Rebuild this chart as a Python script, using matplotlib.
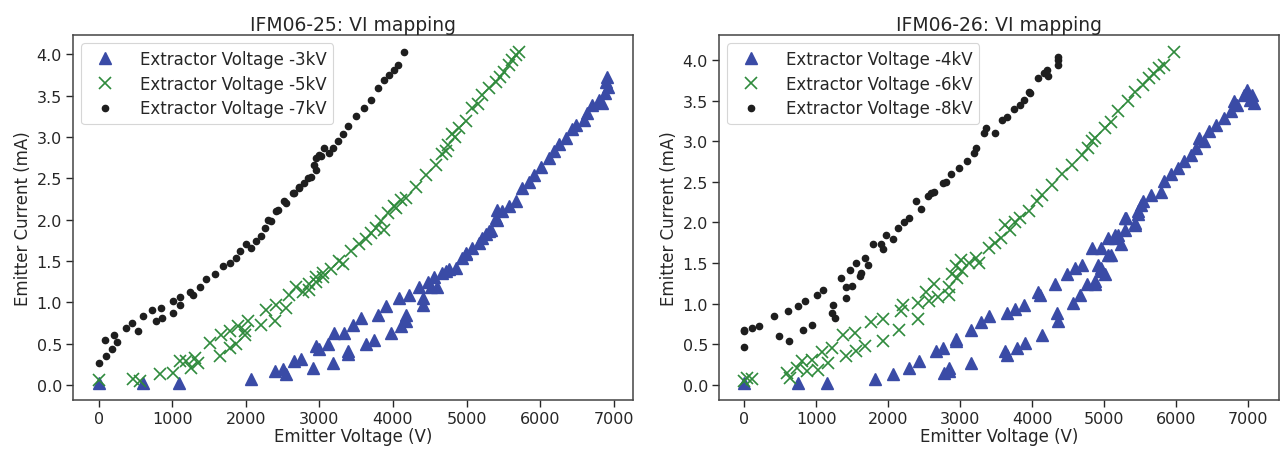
import matplotlib
matplotlib.use("Agg")
import matplotlib.pyplot as plt

# IFM06-25 (left panel)
x25_3kv = [0, 605, 1089, 2075, 2391, 2504, 2549, 2662, 2753, 2910, 2956, 3001, 3114, 3181, 3204, 3340,
           3385, 3385, 3453, 3566, 3634, 3747, 3792, 3905, 3973, 4086, 4108, 4176, 4176, 4222, 4357, 4402,
           4402, 4470, 4515, 4560, 4605, 4673, 4719, 4763, 4854, 4944, 4990, 4990, 5080, 5170, 5215, 5261,
           5306, 5329, 5396, 5419, 5419, 5487, 5577, 5668, 5758, 5848, 5916, 6007, 6119, 6187, 6255, 6346,
           6435, 6481, 6594, 6639, 6707, 6797, 6843, 6888, 6900, 6910, 6920]
y25_3kv = [0.02, 0.03, 0.03, 0.07, 0.17, 0.19, 0.13, 0.29, 0.31, 0.21, 0.47, 0.43, 0.49, 0.27, 0.63, 0.63,
           0.41, 0.37, 0.73, 0.81, 0.49, 0.55, 0.85, 0.95, 0.63, 1.05, 0.71, 0.85, 0.77, 1.09, 1.18, 0.97,
           1.05, 1.24, 1.18, 1.30, 1.18, 1.36, 1.38, 1.40, 1.42, 1.54, 1.58, 1.60, 1.66, 1.72, 1.78, 1.82,
           1.86, 1.88, 2.02, 2.00, 2.12, 2.10, 2.16, 2.22, 2.38, 2.46, 2.54, 2.64, 2.74, 2.83, 2.91, 2.99,
           3.09, 3.15, 3.21, 3.29, 3.39, 3.45, 3.41, 3.53, 3.67, 3.73, 3.60]

x25_5kv = [0, 470, 560, 831, 1012, 1102, 1193, 1261, 1306, 1351, 1509, 1645, 1668, 1780, 1780, 1871,
           1893, 1985, 1985, 2030, 2210, 2278, 2391, 2414, 2549, 2594, 2685, 2775, 2865, 2865, 2956, 2956,
           3046, 3046, 3159, 3272, 3317, 3431, 3543, 3634, 3702, 3770, 3837, 3882, 3927, 4018, 4041, 4108,
           4176, 4312, 4447, 4583, 4673, 4719, 4750, 4808, 4850, 4899, 4990, 5080, 5150, 5215, 5306, 5396,
           5450, 5509, 5577, 5620, 5668, 5713]
y25_5kv = [0.06, 0.07, 0.05, 0.13, 0.15, 0.29, 0.29, 0.21, 0.33, 0.27, 0.51, 0.35, 0.61, 0.45, 0.65, 0.49,
           0.71, 0.65, 0.60, 0.77, 0.73, 0.91, 0.77, 0.97, 0.93, 1.09, 1.18, 1.13, 1.22, 1.15, 1.30, 1.24,
           1.36, 1.30, 1.40, 1.50, 1.46, 1.62, 1.70, 1.76, 1.84, 1.90, 1.98, 1.88, 2.08, 2.16, 2.14, 2.24,
           2.26, 2.40, 2.54, 2.66, 2.79, 2.83, 2.90, 3.03, 3.00, 3.11, 3.19, 3.35, 3.40, 3.51, 3.59, 3.67,
           3.72, 3.79, 3.87, 3.93, 3.99, 4.03]

x25_7kv = [0, 90, 99, 176, 207, 254, 370, 460, 537, 605, 732, 786, 845, 866, 1012, 1012, 1102, 1102,
           1238, 1283, 1373, 1464, 1577, 1690, 1780, 1871, 1916, 2007, 2075, 2142, 2210, 2255, 2300, 2346,
           2414, 2435, 2526, 2549, 2639, 2662, 2730, 2730, 2797, 2842, 2888, 2933, 2956, 2955, 3001, 3024,
           3068, 3136, 3181, 3249, 3317, 3385, 3498, 3611, 3702, 3791, 3882, 3950, 4018, 4062, 4153]
y25_7kv = [0.27, 0.55, 0.35, 0.43, 0.61, 0.52, 0.69, 0.75, 0.65, 0.83, 0.91, 0.77, 0.93, 0.81, 0.87, 1.01,
           0.97, 1.07, 1.13, 1.09, 1.18, 1.28, 1.34, 1.44, 1.48, 1.54, 1.62, 1.70, 1.66, 1.74, 1.80, 1.90,
           2.00, 1.98, 2.10, 2.12, 2.22, 2.20, 2.32, 2.32, 2.38, 2.40, 2.44, 2.50, 2.52, 2.66, 2.60, 2.74,
           2.78, 2.77, 2.87, 2.81, 2.87, 2.95, 3.03, 3.13, 3.25, 3.35, 3.45, 3.59, 3.69, 3.75, 3.81, 3.87,
           4.03]

# IFM06-26 (right panel)
x26_4kv = [0, 751, 1142, 1810, 2063, 2293, 2431, 2662, 2754, 2777, 2846, 2846, 2938, 2938, 3145, 3145,
           3283, 3398, 3628, 3650, 3650, 3767, 3790, 3881, 3904, 4088, 4112, 4135, 4319, 4342, 4365, 4480,
           4573, 4595, 4664, 4687, 4757, 4826, 4871, 4872, 4918, 4964, 4964, 4964, 5010, 5055, 5055, 5102,
           5148, 5148, 5194, 5240, 5286, 5286, 5309, 5424, 5424, 5470, 5470, 5516, 5539, 5654, 5792, 5838,
           5931, 6022, 6115, 6207, 6276, 6322, 6391, 6460, 6552, 6667, 6760, 6805, 6851, 6943, 6989, 7035,
           7058, 7080]
y26_4kv = [0.02, 0.02, 0.02, 0.07, 0.13, 0.21, 0.29, 0.42, 0.46, 0.15, 0.21, 0.17, 0.56, 0.54, 0.27, 0.68,
           0.77, 0.85, 0.42, 0.37, 0.89, 0.93, 0.46, 0.99, 0.52, 1.15, 1.11, 0.62, 1.24, 0.89, 0.79, 1.36,
           1.01, 1.44, 1.11, 1.48, 1.24, 1.69, 1.28, 1.24, 1.48, 1.40, 1.44, 1.69, 1.36, 1.81, 1.60, 1.60,
           1.85, 1.81, 1.85, 1.73, 1.91, 2.06, 2.06, 1.99, 1.97, 2.10, 2.14, 2.22, 2.26, 2.34, 2.38, 2.51,
           2.59, 2.67, 2.75, 2.83, 2.92, 3.04, 3.00, 3.12, 3.20, 3.28, 3.37, 3.49, 3.45, 3.57, 3.63, 3.51,
           3.57, 3.47]

x26_6kv = [0, 30, 106, 590, 635, 728, 797, 866, 935, 1027, 1073, 1165, 1211, 1373, 1418, 1533, 1556,
           1671, 1763, 1925, 1925, 2155, 2178, 2201, 2408, 2408, 2523, 2569, 2639, 2685, 2846, 2845, 2892,
           2938, 2961, 3007, 3030, 3122, 3214, 3260, 3398, 3490, 3560, 3628, 3698, 3767, 3836, 3950, 4066,
           4135, 4273, 4411, 4550, 4688, 4779, 4826, 4871, 5010, 5102, 5193, 5331, 5424, 5539, 5631, 5700,
           5769, 5838, 5976]
y26_6kv = [0.05, 0.08, 0.07, 0.15, 0.08, 0.21, 0.29, 0.17, 0.31, 0.19, 0.40, 0.27, 0.46, 0.62, 0.36, 0.64,
           0.42, 0.48, 0.77, 0.81, 0.54, 0.68, 0.91, 0.99, 0.81, 1.01, 1.15, 1.03, 1.24, 1.08, 1.11, 1.20,
           1.36, 1.46, 1.32, 1.54, 1.40, 1.50, 1.56, 1.50, 1.69, 1.75, 1.81, 1.97, 1.91, 2.01, 2.06, 2.14,
           2.26, 2.34, 2.46, 2.59, 2.71, 2.83, 2.92, 3.00, 3.04, 3.16, 3.24, 3.37, 3.49, 3.61, 3.69, 3.78,
           3.82, 3.90, 3.94, 4.10]

x26_8kv = [0, 0, 0, 106, 199, 406, 475, 599, 621, 751, 820, 842, 945, 1004, 1096, 1211, 1234, 1257,
           1349, 1418, 1418, 1464, 1500, 1556, 1602, 1625, 1671, 1717, 1787, 1902, 1925, 1971, 2063, 2133,
           2224, 2293, 2385, 2454, 2547, 2593, 2639, 2754, 2800, 2869, 2983, 3099, 3191, 3214, 3329, 3352,
           3490, 3583, 3652, 3743, 3836, 3881, 3950, 3973, 4088, 4158, 4204, 4227, 4365, 4365, 4365]
y26_8kv = [0.47, 0.66, 0.68, 0.70, 0.72, 0.85, 0.60, 0.91, 0.54, 0.97, 0.68, 1.03, 0.74, 1.11, 1.17, 0.89,
           0.99, 0.83, 1.32, 1.20, 1.07, 1.42, 1.22, 1.50, 1.34, 1.38, 1.56, 1.48, 1.73, 1.73, 1.67, 1.85,
           1.79, 1.93, 2.01, 2.06, 2.26, 2.16, 2.32, 2.36, 2.38, 2.49, 2.50, 2.59, 2.67, 2.75, 2.85, 2.92,
           3.10, 3.16, 3.10, 3.26, 3.30, 3.39, 3.45, 3.51, 3.61, 3.59, 3.78, 3.84, 3.88, 3.80, 4.00, 3.94,
           4.04]

titles = ["IFM06-25: VI mapping", "IFM06-26: VI mapping"]
labels = [["Extractor Voltage -3kV", "Extractor Voltage -5kV", "Extractor Voltage -7kV"],
          ["Extractor Voltage -4kV", "Extractor Voltage -6kV", "Extractor Voltage -8kV"]]

blue = "#3a4ba6"
green = "#2f8a3c"
black = "#1e1e1e"
txt = "#262626"

plt.rcParams["font.family"] = "DejaVu Sans"
plt.rcParams["text.color"] = txt
plt.rcParams["axes.labelcolor"] = txt
plt.rcParams["xtick.color"] = txt
plt.rcParams["ytick.color"] = txt

fig, axes = plt.subplots(1, 2, figsize=(12.83, 4.52), dpi=100)
fig.subplots_adjust(left=0.057, right=0.997, bottom=0.113, top=0.92, wspace=0.153)

panels = [(x25_3kv, y25_3kv, x25_5kv, y25_5kv, x25_7kv, y25_7kv),
          (x26_4kv, y26_4kv, x26_6kv, y26_6kv, x26_8kv, y26_8kv)]

for ax, p, title, lab in zip(axes, panels, titles, labels):
    ax.plot(p[0], p[1], linestyle="none", marker="^", ms=8, color=blue, label=lab[0])
    ax.plot(p[2], p[3], linestyle="none", marker="x", ms=8, mew=1.2, color=green, label=lab[1])
    ax.plot(p[4], p[5], linestyle="none", marker="o", ms=4.5, color=black, label=lab[2])
    ax.set_title(title, fontsize=13.5, color=txt, pad=4)
    ax.set_xlabel("Emitter Voltage (V)", fontsize=12, labelpad=1)
    ax.set_ylabel("Emitter Current (mA)", fontsize=12, labelpad=3)
    ax.set_xticks(range(0, 7001, 1000))
    ax.set_yticks([0, 0.5, 1.0, 1.5, 2.0, 2.5, 3.0, 3.5, 4.0])
    ax.tick_params(labelsize=11.5, length=5, width=1, direction="out", pad=3)
    for s in ax.spines.values():
        s.set_color("#444444")
        s.set_linewidth(1.1)
    leg = ax.legend(loc="upper left", fontsize=12, numpoints=1, frameon=True,
                    borderpad=0.4, handletextpad=1.1, labelspacing=0.4)
    leg.get_frame().set_edgecolor("#cccccc")
    leg.get_frame().set_linewidth(0.8)

plt.savefig("out.png", dpi=100)
